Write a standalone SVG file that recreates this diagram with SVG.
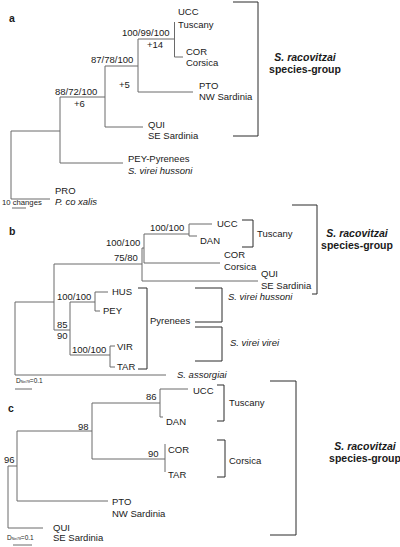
<svg xmlns="http://www.w3.org/2000/svg" width="400" height="547" viewBox="0 0 400 547">
<style>
text{font-family:"Liberation Sans",Arial,sans-serif;font-size:9.5px;fill:#1a1a1a}
.it{font-style:italic}
.pl{font-weight:bold;font-size:10.5px}
.sg{font-weight:bold;font-size:10.5px;text-anchor:middle}
.sc{font-size:6.5px}
.tr{fill:none;stroke:#6a6a6a;stroke-width:1}
.br{fill:none;stroke:#2a2a2a;stroke-width:1}
</style>
<rect width="400" height="547" fill="#fff"/>

<!-- ===== Panel a ===== -->
<g id="panel-a">
<text class="pl" x="9" y="22">a</text>
<g id="connectors-a">
<path class="tr" d="M11,131V199M11,131H60M11,199H50M60,97V163M60,163H123M60,97H105M105,66V127M105,127H143M105,66H138M138,39V92M138,92H193M138,39H174.5M174.5,22V57M174.5,57H183"/>
<path class="br" d="M233,2H258V136H233"/>
<path class="tr" d="M12,208H26"/>
</g>
<g id="a-ucc"><text x="178" y="15">UCC</text><text x="178" y="28">Tuscany</text></g>
<g id="a-cor"><text x="186" y="55">COR</text><text x="186" y="66">Corsica</text></g>
<g id="a-pto"><text x="199" y="89">PTO</text><text x="199" y="100">NW Sardinia</text></g>
<g id="a-qui"><text x="148" y="128">QUI</text><text x="148" y="139">SE Sardinia</text></g>
<g id="a-pey"><text x="128" y="162">PEY-Pyrenees</text><text class="it" x="128" y="174">S. virei hussoni</text></g>
<g id="a-pro"><text x="55" y="194">PRO</text><text class="it" x="55" y="205">P. co xalis</text></g>
<g id="a-n1"><text x="122" y="36">100/99/100</text><text x="147" y="48">+14</text></g>
<g id="a-n2"><text x="91" y="63">87/78/100</text><text x="119" y="88">+5</text></g>
<g id="a-n3"><text x="55" y="95">88/72/100</text><text x="74" y="107">+6</text></g>
<g id="a-scale"><text x="2" y="205" style="font-size:7.7px">10 changes</text></g>
<g id="a-group"><text class="sg it" x="305" y="61">S. racovitzai</text><text class="sg" x="305" y="73">species-group</text></g>
</g>

<!-- ===== Panel b ===== -->
<g id="panel-b">
<text class="pl" x="9" y="235">b</text>
<g id="connectors-b">
<path class="tr" d="M15,302V375M15,302H54M15,375H166M54,264V330M54,264H142M54,330H70M142,248V281M142,281H258M142,248H144M144,234V263M144,263H220M144,234H189M189,224V236M189,224H212M189,236H197M70,302V355M70,302H95M95,292V311M95,292H108M95,311H100M70,355H110M110,346V367M110,346H115M110,367H115"/>
<path class="br" d="M242,220H253V247H242M292,205H317V294H312M138,288H147V369H138M195,288H222V322H195M195,327H222V361H195"/>
<path class="tr" d="M15,389H32"/>
</g>
<g id="b-ucc"><text x="217" y="227">UCC</text></g>
<g id="b-dan"><text x="200" y="244">DAN</text></g>
<g id="b-cor"><text x="224" y="258">COR</text><text x="224" y="270">Corsica</text></g>
<g id="b-qui"><text x="261" y="277">QUI</text><text x="261" y="289">SE Sardinia</text></g>
<g id="b-tuscany"><text x="257" y="237">Tuscany</text></g>
<g id="b-hus"><text x="112" y="295">HUS</text></g>
<g id="b-pey"><text x="103" y="314">PEY</text></g>
<g id="b-vir"><text x="117" y="350">VIR</text></g>
<g id="b-tar"><text x="117" y="370">TAR</text></g>
<g id="b-pyrenees"><text x="150" y="324">Pyrenees</text></g>
<g id="b-hussoni"><text class="it" x="228" y="300">S. virei hussoni</text></g>
<g id="b-virei"><text class="it" x="230" y="346">S. virei virei</text></g>
<g id="b-assorgiai"><text class="it" x="177" y="378">S. assorgiai</text></g>
<g id="b-n1"><text x="150" y="231">100/100</text></g>
<g id="b-n2"><text x="106" y="246">100/100</text></g>
<g id="b-n3"><text x="114" y="261">75/80</text></g>
<g id="b-n4"><text x="57" y="300">100/100</text></g>
<g id="b-n5"><text x="57" y="328">85</text><text x="57" y="339">90</text></g>
<g id="b-n6"><text x="72" y="353">100/100</text></g>
<g id="b-scale"><text class="sc" x="16" y="383">D<tspan style="font-size:3.5px">Nei78</tspan>=0.1</text></g>
<g id="b-group"><text class="sg it" x="357" y="237">S. racovitzai</text><text class="sg" x="357" y="249">species-group</text></g>
</g>

<!-- ===== Panel c ===== -->
<g id="panel-c">
<text class="pl" x="8" y="412">c</text>
<g id="connectors-c">
<path class="tr" d="M8,466V528M8,528H43M8,466H17M17,431V501M17,501H108M17,431H92M92,403V459M92,403H160M160,389V417M160,389H188M160,417H163M92,459H165M165,444V472"/>
<path class="br" d="M217,385H224V421H217M217,440H225V477H217M270,381H296V535H270"/>
<path class="tr" d="M13,545H32"/>
</g>
<g id="c-ucc"><text x="193" y="394">UCC</text></g>
<g id="c-dan"><text x="166" y="425">DAN</text></g>
<g id="c-cor"><text x="168" y="453">COR</text></g>
<g id="c-tar"><text x="168" y="478">TAR</text></g>
<g id="c-pto"><text x="112" y="505">PTO</text><text x="112" y="517">NW Sardinia</text></g>
<g id="c-qui"><text x="53" y="531">QUI</text><text x="53" y="541">SE Sardinia</text></g>
<g id="c-tuscany"><text x="229" y="406">Tuscany</text></g>
<g id="c-corsica"><text x="229" y="464">Corsica</text></g>
<g id="c-n1"><text x="146" y="400">86</text></g>
<g id="c-n2"><text x="78" y="430">98</text></g>
<g id="c-n3"><text x="148" y="457">90</text></g>
<g id="c-n4"><text x="4" y="463">96</text></g>
<g id="c-scale"><text class="sc" x="7" y="540">D<tspan style="font-size:3.5px">Nei78</tspan>=0.1</text></g>
<g id="c-group"><text class="sg it" x="365" y="450">S. racovitzai</text><text class="sg" x="365" y="462">species-group</text></g>
</g>
</svg>
